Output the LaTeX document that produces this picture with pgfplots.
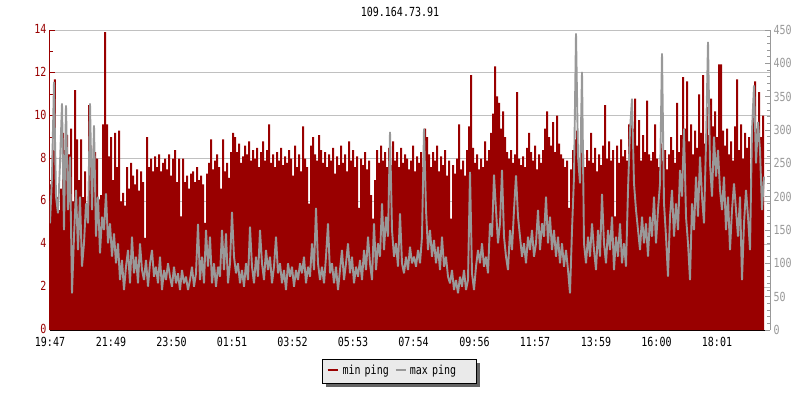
\documentclass[border=0pt]{standalone}
\usepackage{pgfplots}
\pgfplotsset{compat=1.18}
\usepackage{pgfplotstable}
\usepackage{fontspec}
\usetikzlibrary{shadows}
\newfontfamily\chartfont[FakeStretch=0.8]{DejaVu Sans Mono}
\newcommand\cf{\chartfont\fontsize{12.5pt}{14pt}\selectfont}
\definecolor{pingred}{RGB}{153,0,0}
\definecolor{pinggray}{RGB}{153,153,153}
\definecolor{gridgray}{RGB}{192,192,192}
\definecolor{legbg}{RGB}{234,234,234}
\definecolor{shadowgray}{RGB}{100,100,100}

\pgfplotstableread{
t r g
0 6.8 160
4 8.4 230
8 11.7 372
12 6.2 200
16 5.6 175
20 6.6 250
24 9.2 340
28 8.4 150
32 9.1 337
36 8.2 180
40 9.4 260
44 6.0 55
48 11.2 140
52 8.9 210
56 7.0 120
60 8.9 200
64 6.2 95
68 7.4 130
72 5.9 190
76 10.5 160
80 8.6 340
84 7.6 180
88 8.3 307
92 8.0 140
96 6.1 200
100 6.3 115
104 9.6 170
108 13.9 150
112 9.6 205
116 8.1 130
120 9.0 160
124 7.0 110
128 9.2 145
132 7.6 100
136 9.3 130
140 6.0 75
144 6.4 105
148 5.8 60
152 7.6 95
156 6.6 120
160 7.8 70
164 7.2 140
168 6.8 85
172 7.5 110
176 6.5 70
180 7.4 130
184 6.9 90
188 4.3 75
192 9.0 105
196 7.6 65
200 8.0 100
204 7.4 120
208 8.1 80
212 7.6 95
216 8.2 70
220 7.4 110
224 7.8 60
228 8.0 90
232 7.5 75
236 8.2 100
240 7.2 80
244 8.0 65
248 8.4 95
252 6.9 70
256 8.0 85
260 5.3 60
264 8.0 90
268 6.9 70
272 7.2 80
276 6.6 60
280 7.3 75
284 7.4 95
288 6.9 65
292 7.6 85
296 7.0 159
300 7.2 75
304 6.8 110
308 5.0 70
312 7.3 150
316 7.8 95
320 8.9 140
324 7.5 70
328 7.9 100
332 8.2 65
336 7.6 95
340 6.6 80
344 8.9 150
348 7.4 90
352 7.8 145
356 7.1 70
360 8.3 100
364 9.2 177
368 9.0 110
372 8.3 85
376 8.7 100
380 7.8 70
384 8.1 90
388 8.6 65
392 8.2 100
396 8.8 75
400 7.9 155
404 8.4 95
408 8.0 70
412 8.5 110
416 7.6 80
420 8.3 150
424 8.8 100
428 7.9 75
432 8.4 120
436 9.6 90
440 7.8 110
444 8.2 70
448 7.6 95
452 8.3 140
456 7.9 85
460 8.5 100
464 7.7 70
468 8.1 90
472 7.8 60
476 8.4 100
480 8.0 80
484 7.2 95
488 8.6 65
492 7.6 90
496 8.2 75
500 7.4 100
504 9.5 85
508 8.0 110
512 7.6 70
516 5.9 95
520 8.6 80
524 9.0 130
528 8.2 90
532 7.9 183
536 9.1 100
540 8.4 75
544 7.8 95
548 8.3 70
552 7.6 110
556 8.2 160
560 7.9 85
564 8.5 100
568 7.3 70
572 8.1 95
576 7.7 60
580 8.6 90
584 7.8 120
588 8.2 75
592 7.4 100
596 8.8 130
600 7.9 85
604 8.4 110
608 7.6 70
612 8.1 95
616 5.7 80
620 8.0 105
624 7.7 75
628 8.3 120
632 7.5 90
636 7.9 140
640 6.3 100
644 5.2 75
648 7.0 160
652 8.4 90
656 7.8 130
660 8.6 110
664 7.9 190
668 8.3 120
672 7.6 170
676 8.5 140
680 7.7 297
684 8.8 150
688 7.9 110
692 8.3 130
696 7.6 95
700 8.5 175
704 7.8 100
708 8.2 85
712 8.0 110
716 7.5 90
720 7.9 125
724 8.6 100
728 7.4 110
732 8.1 95
736 7.8 120
740 8.3 100
744 7.6 140
748 9.4 302
752 9.0 180
756 8.2 120
760 7.6 150
764 8.3 110
768 7.9 135
772 8.6 100
776 7.4 125
780 8.1 90
784 7.7 140
788 8.4 95
792 7.2 110
796 7.9 80
800 5.2 70
804 7.7 90
808 7.3 60
812 8.0 75
816 9.6 55
820 7.5 80
824 7.9 65
828 7.2 90
832 8.4 60
836 9.5 75
840 11.9 237
844 8.5 85
848 7.8 60
852 8.2 95
856 7.5 120
860 8.0 100
864 7.6 130
868 8.8 95
872 7.9 110
876 8.4 85
880 9.2 160
884 10.1 140
888 12.3 233
892 10.9 180
896 10.6 130
900 9.4 160
904 10.2 240
908 9.0 140
912 8.3 110
916 8.0 90
920 8.4 150
924 7.8 120
928 8.2 180
932 11.1 232
936 8.0 170
940 7.7 140
944 8.1 110
948 7.6 130
952 8.5 100
956 9.2 140
960 8.3 120
964 7.9 150
968 8.6 110
972 7.5 130
976 8.2 180
980 7.8 120
984 8.4 160
988 9.4 140
992 10.2 200
996 9.0 130
1000 8.6 170
1004 9.7 120
1008 8.3 150
1012 10.0 110
1016 8.7 140
1020 8.2 100
1024 8.0 130
1028 7.6 95
1032 7.9 120
1036 5.7 90
1040 7.5 55
1044 8.4 150
1048 8.9 230
1052 9.3 445
1056 8.0 260
1060 8.6 220
1064 8.2 387
1068 7.6 130
1072 8.4 100
1076 7.9 140
1080 9.2 110
1084 7.8 160
1088 8.5 120
1092 7.4 90
1096 8.2 150
1100 7.7 110
1104 8.6 204
1108 10.5 130
1112 8.0 100
1116 8.8 150
1120 7.9 120
1124 8.4 170
1128 5.3 90
1132 8.6 140
1136 7.8 110
1140 8.9 160
1144 8.1 100
1148 8.4 130
1152 7.9 95
1156 9.6 210
1160 10.0 300
1164 9.4 347
1168 10.8 220
1172 8.6 180
1176 9.8 150
1180 7.9 120
1184 9.1 170
1188 8.3 130
1192 10.7 160
1196 8.2 110
1200 7.9 170
1204 8.3 140
1208 9.6 200
1212 8.0 130
1216 7.6 180
1220 8.7 220
1224 7.9 415
1228 8.4 190
1232 7.5 140
1236 8.2 80
1240 9.0 170
1244 8.4 210
1248 7.8 140
1252 10.6 190
1256 8.3 150
1260 9.1 240
1264 11.8 200
1268 9.4 302
1272 11.6 170
1276 8.8 130
1280 9.6 75
1284 8.2 190
1288 9.3 150
1292 8.5 230
1296 11.0 170
1300 9.2 260
1304 11.9 200
1308 8.7 160
1312 10.4 280
1316 9.1 432
1320 10.8 250
1324 9.5 200
1328 10.2 290
1332 9.0 230
1336 12.4 270
1340 12.4 210
1344 9.3 180
1348 8.6 230
1352 9.4 150
1356 8.2 200
1360 8.8 120
1364 7.9 180
1368 9.5 220
1372 11.7 180
1376 8.4 140
1380 9.6 200
1384 8.0 75
1388 9.2 160
1392 8.5 210
1396 9.0 170
1400 6.8 120
1404 10.2 300
1408 11.6 367
1412 9.4 250
1416 11.1 312
1420 9.0 270
1424 10.0 180
1428 8.4 230
}\pingdata

\begin{document}
\begin{tikzpicture}
\useasboundingbox (-50pt,-70pt) rectangle (750pt,330pt);
\begin{axis}[
  scale only axis, width=720pt, height=300pt,
  xmin=0, xmax=1440, ymin=0, ymax=14,
  axis lines*=left, axis line style={-},
  x axis line style={black, line width=1pt},
  y axis line style={pingred, line width=1pt},
  xtick={0,122,243,364,485,606,727,849,970,1092,1213,1334},
  xticklabels={19:47,21:49,23:50,01:51,03:52,05:53,07:54,09:56,11:57,13:59,16:00,18:01},
  ytick={0,2,...,14}, minor ytick={1,3,...,13},
  tick align=inside,
  major tick length=5pt, minor tick length=3pt,
  x tick style={black, line width=1pt},
  y tick style={pingred, line width=1pt},
  ymajorgrids, grid style={gridgray, line width=1pt},
  /pgf/number format/assume math mode=true,
  ticklabel style={font=\cf},
  xticklabel style={text=black, yshift=-3.5pt},
  yticklabel style={text=pingred, yshift=1pt},
]
\addplot[fill=pingred, draw=none, const plot] table[x=t, y=r]{\pingdata} \closedcycle;
\end{axis}
\begin{axis}[
  scale only axis, width=720pt, height=300pt,
  xmin=0, xmax=1440, ymin=0, ymax=450,
  axis y line*=right, axis x line=none, axis line style={-},
  y axis line style={pinggray, line width=1pt},
  ytick={0,50,...,450}, minor y tick num=4,
  tick align=inside,
  major tick length=5pt, minor tick length=3pt,
  y tick style={pinggray, line width=1pt},
  /pgf/number format/assume math mode=true,
  yticklabel style={font=\cf, text=pinggray},
]
\addplot[pinggray, line width=1.9pt, sharp plot, line join=bevel] table[x=t, y=g]{\pingdata};
\end{axis}
\node[font=\cf] at (350pt,318pt) {109.164.73.91};
\node[draw=black, line width=1pt, fill=legbg, anchor=west,
      drop shadow={shadow xshift=3.5pt, shadow yshift=-3.5pt, fill=shadowgray, opacity=1},
      text width=144pt, align=left, inner xsep=5pt, minimum height=24pt, font=\cf]
  at (272pt,-41pt)
  {\textcolor{pingred}{\rule[3pt]{10pt}{2.5pt}}\hspace{5pt}min ping\hspace{7pt}\textcolor{pinggray}{\rule[3pt]{10pt}{2.5pt}}\hspace{4pt}max ping};
\end{tikzpicture}
\end{document}
